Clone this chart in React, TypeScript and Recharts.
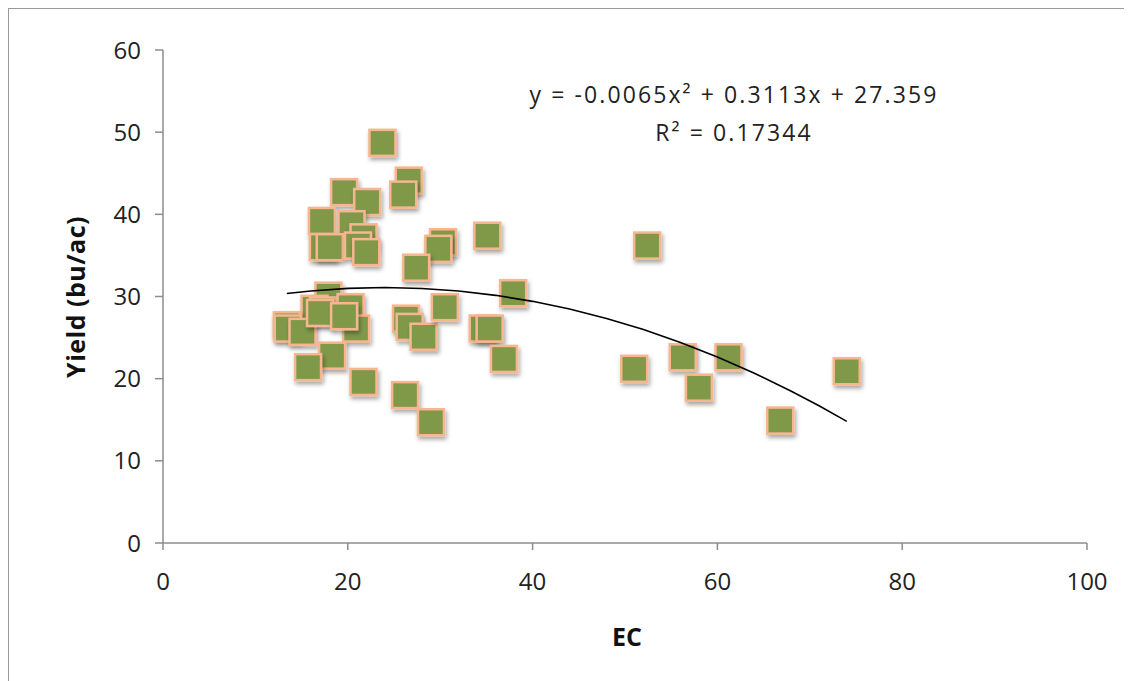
import { ScatterChart, Scatter, XAxis, YAxis } from 'recharts'

// EC (x) and yield in bu/ac (y) for each plotted sample
const ecValues = [
  23.75, 26.6, 26.0, 19.6, 22.1, 17.2, 20.4, 21.7, 17.3, 18.05, 21.1, 22.0, 30.3, 29.8, 27.4, 35.1, 37.9, 17.9, 16.4,
  17.3, 20.3, 13.4, 13.5, 15.1, 20.9, 26.3, 26.7, 28.2, 30.5, 34.6, 35.35, 36.9, 18.3, 15.7, 21.7, 26.2, 29.0, 52.4,
  51.0, 56.25, 58.0, 61.2, 66.8, 74.0, 17.0, 19.6,
]
const yieldValues = [
  48.7, 44.1, 42.4, 42.7, 41.5, 39.2, 38.8, 37.2, 36.0, 36.0, 36.2, 35.4, 36.6, 35.8, 33.5, 37.4, 30.4, 30.1, 28.5,
  28.3, 28.7, 26.5, 26.1, 25.7, 26.1, 27.3, 26.3, 25.1, 28.7, 26.1, 26.1, 22.4, 22.8, 21.4, 19.6, 18.0, 14.7, 36.2,
  21.2, 22.6, 18.9, 22.6, 14.9, 20.9, 28.0, 27.6,
]

// polynomial trendline as printed on the chart
const trendA = -0.0065
const trendB = 0.3113
const trendC = 27.359
const trendXs = [13.4, 16, 20, 24, 28, 32, 36, 40, 44, 48, 52, 56, 60, 64, 68, 71, 74]

const xTicks = [0, 20, 40, 60, 80, 100]
const yTicks = [0, 10, 20, 30, 40, 50, 60]

const points = ecValues.map((ec, i) => ({ ec, yield: yieldValues[i] }))
const trendPoints = trendXs.map((x) => ({ ec: x, yield: trendA * x * x + trendB * x + trendC }))

const FONT = '"Open Sans", "Liberation Sans", sans-serif'

const SquareMarker = (props: any) => {
  const { cx, cy } = props
  if (cx == null || cy == null) return null
  return (
    <rect
      x={cx - 13}
      y={cy - 13}
      width={26}
      height={26}
      fill="#80994a"
      stroke="#f7b690"
      strokeWidth={2.5}
      filter="url(#markerShadow)"
    />
  )
}

export default function App() {
  return (
    <div
      style={{
        position: 'relative',
        width: 1124,
        height: 673,
        borderTop: '1.5px solid #9a9a9a',
        borderLeft: '1.5px solid #9a9a9a',
        boxSizing: 'border-box',
        fontFamily: FONT,
      }}
    >
      <svg width={0} height={0} style={{ position: 'absolute' }}>
        <defs>
          <filter id="markerShadow" x="-30%" y="-30%" width="170%" height="170%">
            <feDropShadow dx={1.5} dy={3} stdDeviation={2} floodColor="#000" floodOpacity={0.35} />
          </filter>
        </defs>
      </svg>
      <ScatterChart width={1122} height={671} margin={{ top: 41, right: 44, bottom: 77, left: 0 }}>
        <XAxis
          type="number"
          dataKey="ec"
          domain={[0, 100]}
          ticks={xTicks}
          height={60}
          axisLine={{ stroke: '#8c8c8c', strokeWidth: 1.5 }}
          tickLine={{ stroke: '#8c8c8c', strokeWidth: 1.5 }}
          tickSize={7}
          tickMargin={23}
          tick={{ fill: '#222', fontSize: 24, fontFamily: FONT }}
        />
        <YAxis
          type="number"
          dataKey="yield"
          domain={[0, 60]}
          ticks={yTicks}
          width={154}
          axisLine={{ stroke: '#8c8c8c', strokeWidth: 1.5 }}
          tickLine={{ stroke: '#8c8c8c', strokeWidth: 1.5 }}
          tickSize={8}
          tickMargin={14}
          tick={{ fill: '#222', fontSize: 24, fontFamily: FONT }}
        />
        <Scatter data={points} shape={SquareMarker} isAnimationActive={false} />
        <Scatter
          data={trendPoints}
          line={{ stroke: '#000', strokeWidth: 1.6 }}
          lineType="joint"
          shape={() => null}
          isAnimationActive={false}
        />
      </ScatterChart>

      <div
        style={{
          position: 'absolute',
          left: 66,
          top: 288,
          transform: 'translate(-50%, -50%) rotate(-90deg)',
          whiteSpace: 'nowrap',
          fontWeight: 700,
          fontSize: 25,
          letterSpacing: 0.5,
          color: '#111',
        }}
      >
        Yield (bu/ac)
      </div>
      <div
        style={{
          position: 'absolute',
          left: 618,
          top: 627,
          transform: 'translate(-50%, -50%)',
          fontWeight: 700,
          fontSize: 25,
          color: '#111',
        }}
      >
        EC
      </div>
      <div
        style={{
          position: 'absolute',
          left: 725,
          top: 104,
          transform: 'translate(-50%, -50%)',
          whiteSpace: 'nowrap',
          textAlign: 'center',
          fontSize: 23,
          letterSpacing: 2.1,
          lineHeight: '38px',
          color: '#222',
        }}
      >
        <div>y = -0.0065x² + 0.3113x + 27.359</div>
        <div>R² = 0.17344</div>
      </div>
    </div>
  )
}
